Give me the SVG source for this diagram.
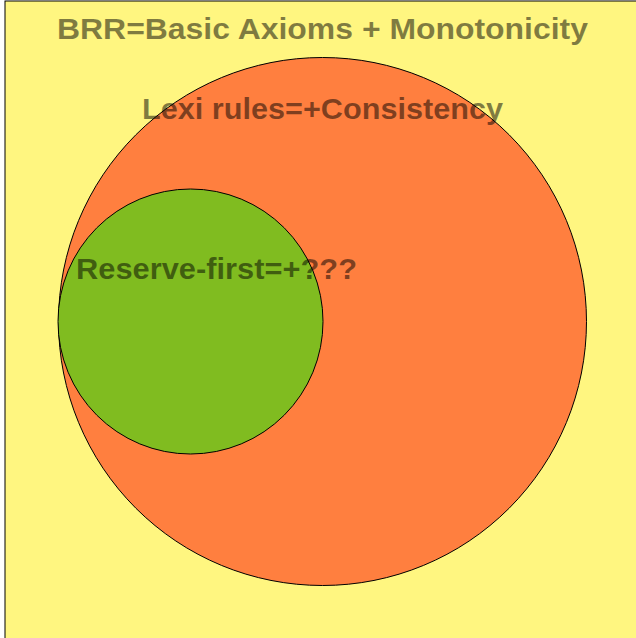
<svg xmlns="http://www.w3.org/2000/svg" width="636" height="638" viewBox="0 0 636 638">
<style>
.set{stroke:#000;stroke-width:1}
.lbl{font-family:"Liberation Sans",Arial,sans-serif;font-weight:bold;font-size:30px;fill:#000;fill-opacity:0.5}
</style>
<rect x="0" y="0" width="636" height="638" fill="#ffffff"/>
<g id="brr">
<rect class="set" x="5" y="1" width="640" height="650" fill="#fff680" stroke-width="1.5"/>
</g>
<g id="lexi">
<circle class="set" cx="322.5" cy="321.5" r="264" fill="#ff7f3f"/>
</g>
<g id="reserve">
<circle class="set" cx="190.5" cy="321.5" r="132.5" fill="#80bc20"/>
</g>
<g id="labels">
<text class="lbl" x="57" y="39" textLength="531" lengthAdjust="spacingAndGlyphs">BRR=Basic Axioms + Monotonicity</text>
<text class="lbl" x="142" y="119" textLength="361" lengthAdjust="spacingAndGlyphs">Lexi rules=+Consistency</text>
<text class="lbl" x="76" y="279" textLength="281" lengthAdjust="spacingAndGlyphs">Reserve-first=+???</text>
</g>
</svg>
